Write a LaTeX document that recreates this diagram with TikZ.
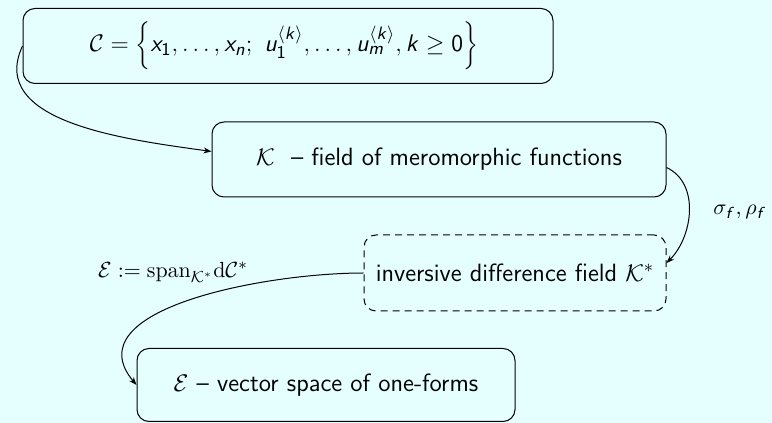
\documentclass[tikz,border=0pt]{standalone}
\usetikzlibrary{arrows.meta}
\DeclareMathAlphabet{\mathsfit}{OT1}{cmss}{m}{sl}
\DeclareMathAlphabet{\mathsfup}{OT1}{cmss}{m}{n}
\definecolor{bgcol}{HTML}{E5FFFF}
\begin{document}
\begin{tikzpicture}[x=0.5pt,y=0.5pt,
  box/.style={draw, rounded corners=6pt, line width=0.5pt, font=\fontsize{12.5}{15}\selectfont\sffamily, align=center, inner sep=0pt},
  dbox/.style={box, dash pattern=on 3.5pt off 2.5pt},
  conn/.style={-{Stealth[length=4pt,width=3pt]}, line width=0.5pt},
  lbl/.style={font=\fontsize{11}{13}\selectfont, inner sep=0pt}]
\fill[bgcol] (0,0) rectangle (772,423);
\useasboundingbox (0,0) rectangle (772,423);
\node[box, minimum width=265pt, minimum height=37.5pt] (C) at (288,377)
  {$\mathcal{C} = \biggl\{ \mathsfit{x}_{\mathsfup{1}}, \ldots, \mathsfit{x}_{\mathsfit{n}};\ \mathsfit{u}_{\mathsfup{1}}^{\langle \mathsfit{k}\rangle}, \ldots, \mathsfit{u}_{\mathsfit{m}}^{\langle\mathsfit{k}\rangle}, \mathsfit{k} \geq \mathsfup{0}\biggr\}$\hspace*{4pt}};
\node[box, minimum width=227pt, minimum height=37.5pt] (K) at (439,263.5)
  {$\mathcal{K}$\ \ -- field of meromorphic functions};
\node[dbox, minimum width=151pt, minimum height=38pt] (Ks) at (515,150)
  {inversive difference field $\mathcal{K}^*$};
\node[box, minimum width=189pt, minimum height=36.5pt] (E) at (326,38)
  {$\mathcal{E}$ -- vector space of one-forms};
\node[lbl] (sig) at (740,211) {$\sigma_{\mathsfit{f}}, \rho_{\mathsfit{f}}$};
\node[lbl] (span) at (173,151) {$\mathcal{E} := \mathrm{span}_{\mathcal{K}^*}\mathrm{d}\mathcal{C}^*$};
\draw[conn] (C.west) to[out=-115,in=172] ([yshift=4pt]K.west);
\draw[conn] ([yshift=-4pt]K.east) to[out=-25,in=45] ([yshift=5pt]Ks.east);
\draw[conn] (Ks.west) to[out=180,in=130] (E.west);
\end{tikzpicture}
\end{document}
